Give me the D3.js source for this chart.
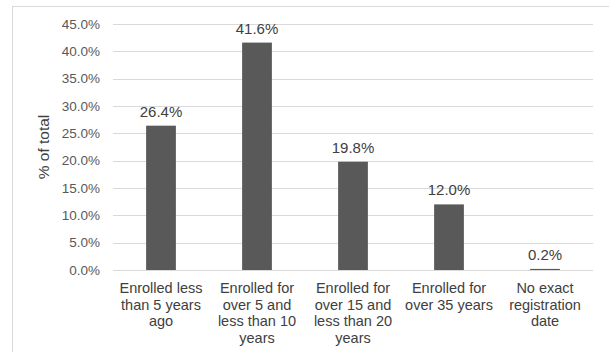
<!DOCTYPE html>
<html>
<head>
<meta charset="utf-8">
<script src="https://cdn.jsdelivr.net/npm/d3@7"></script>
<style>
  html, body { margin: 0; padding: 0; background: #ffffff; }
  svg { display: block; font-family: "Liberation Sans", Arial, sans-serif; }
</style>
</head>
<body>
<div id="chart"></div>
<script>
// Registration period groups and their share of the total
const categories = [
  "Enrolled less than 5 years ago",
  "Enrolled for over 5 and less than 10 years",
  "Enrolled for over 15 and less than 20 years",
  "Enrolled for over 35 years",
  "No exact registration date"
];
const categoryLines = [
  ["Enrolled less", "than 5 years", "ago"],
  ["Enrolled for", "over 5 and", "less than 10", "years"],
  ["Enrolled for", "over 15 and", "less than 20", "years"],
  ["Enrolled for", "over 35 years"],
  ["No exact", "registration", "date"]
];
const shares = [26.4, 41.6, 19.8, 12.0, 0.2];
const yTicks = [0, 5, 10, 15, 20, 25, 30, 35, 40, 45];
const yTitle = "% of total";

const W = 609, H = 352;
const plot = { left: 113, right: 593, top: 24, bottom: 270 };

const svg = d3.select("#chart").append("svg")
  .attr("width", W).attr("height", H);

svg.append("rect").attr("width", W).attr("height", H).attr("fill", "#ffffff");

// chart area frame
svg.append("rect")
  .attr("x", 12.5).attr("y", 6.5)
  .attr("width", W + 20).attr("height", H + 20)
  .attr("fill", "none").attr("stroke", "#d9d9d9").attr("stroke-width", 1);

const x = d3.scaleBand()
  .domain(categories)
  .range([plot.left, plot.right])
  .paddingInner(0.69)
  .paddingOuter(0.345);

const y = d3.scaleLinear()
  .domain([0, 45])
  .range([plot.bottom, plot.top]);

// value axis with gridlines
const yAxis = d3.axisLeft(y)
  .tickValues(yTicks)
  .tickSize(-(plot.right - plot.left))
  .tickPadding(13)
  .tickFormat(d => d3.format(".1f")(d) + "%");

const gy = svg.append("g")
  .attr("transform", `translate(${plot.left},0)`)
  .call(yAxis);
gy.select(".domain").remove();
gy.selectAll(".tick line")
  .attr("stroke", "#d9d9d9").attr("stroke-width", 1)
  .attr("shape-rendering", "crispEdges");
gy.selectAll(".tick text")
  .attr("fill", "#595959")
  .style("font-size", "13.5px")
  .style("font-family", "'Liberation Sans', Arial, sans-serif");

// bars
svg.append("g").selectAll("rect")
  .data(shares)
  .join("rect")
  .attr("x", (d, i) => x(categories[i]))
  .attr("y", d => y(d))
  .attr("width", x.bandwidth())
  .attr("height", d => y(0) - y(d))
  .attr("fill", "#595959");

// value labels
svg.append("g").selectAll("text")
  .data(shares)
  .join("text")
  .attr("x", (d, i) => x(categories[i]) + x.bandwidth() / 2)
  .attr("y", d => y(d) - 9)
  .attr("text-anchor", "middle")
  .attr("fill", "#404040")
  .style("font-size", "15px")
  .text(d => d3.format(".1f")(d) + "%");

// category labels, wrapped
const catG = svg.append("g").selectAll("text")
  .data(categories)
  .join("text")
  .attr("x", d => x(d) + x.bandwidth() / 2)
  .attr("y", 293)
  .attr("text-anchor", "middle")
  .attr("fill", "#404040")
  .style("font-size", "14.5px");
catG.each(function(d, i) {
  const t = d3.select(this);
  categoryLines[i].forEach((line, j) => {
    t.append("tspan")
      .attr("x", x(d) + x.bandwidth() / 2)
      .attr("dy", j === 0 ? 0 : 16.5)
      .text(line);
  });
});

// axis title
svg.append("text")
  .attr("transform", `translate(49,${(plot.top + plot.bottom) / 2}) rotate(-90)`)
  .attr("text-anchor", "middle")
  .attr("fill", "#404040")
  .style("font-size", "15.5px")
  .text(yTitle);
</script>
</body>
</html>
